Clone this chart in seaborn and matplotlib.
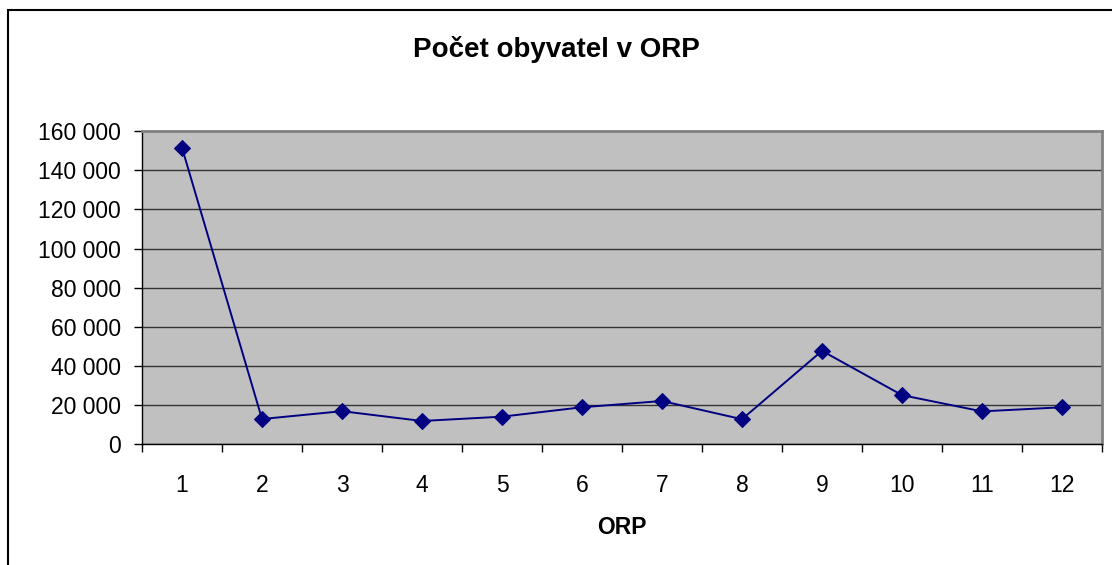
import matplotlib
matplotlib.use("Agg")
import matplotlib.pyplot as plt
import seaborn as sns
import pandas as pd
import numpy as np
from matplotlib.ticker import FuncFormatter, FixedLocator
from matplotlib.patches import Rectangle

# data
orp = [1, 2, 3, 4, 5, 6, 7, 8, 9, 10, 11, 12]
obyvatel = [151500, 13000, 17000, 12000, 14200, 19000, 22200, 12900, 47800, 25200, 16900, 19000]
y_ticks = [0, 20000, 40000, 60000, 80000, 100000, 120000, 140000, 160000]

df = pd.DataFrame({"ORP": orp, "Obyvatel": obyvatel})

sns.set_style("white")
plt.rcParams["font.family"] = ["Liberation Sans", "DejaVu Sans"]
plt.rcParams["text.color"] = "black"
plt.rcParams["xtick.color"] = "black"
plt.rcParams["ytick.color"] = "black"
plt.rcParams["axes.labelcolor"] = "black"

fig = plt.figure(figsize=(11.12, 5.65), dpi=100)
ax = fig.add_axes([0.1277, 0.2133, 0.8633, 0.5547])
ax.set_facecolor("#C0C0C0")

sns.lineplot(data=df, x="ORP", y="Obyvatel", ax=ax, color="#000080",
             marker="D", markersize=8, markeredgecolor="#000080",
             linewidth=1.4, zorder=3)

ax.set_xlim(0.5, 12.5)
ax.set_ylim(0, 160000)
ax.set_yticks(y_ticks)
ax.yaxis.set_major_formatter(FuncFormatter(lambda v, p: f"{int(v):,}".replace(",", " ")))
ax.grid(axis="y", color="#333333", linewidth=1)
ax.set_axisbelow(True)

ax.set_xticks(orp)
ax.xaxis.set_minor_locator(FixedLocator(np.arange(0.5, 13, 1)))
ax.tick_params(axis="x", which="major", length=0, pad=21, labelsize=16.5)
ax.tick_params(axis="x", which="minor", length=6, width=1, color="black", direction="out", bottom=True)
ax.tick_params(axis="y", length=6, width=1, color="black", direction="out", left=True, labelsize=16.5, pad=9)

for side in ["top", "right"]:
    ax.spines[side].set_color("#808080")
    ax.spines[side].set_linewidth(2)
for side in ["left", "bottom"]:
    ax.spines[side].set_color("black")
    ax.spines[side].set_linewidth(1)

ax.set_ylabel("")
ax.set_xlabel("ORP", fontsize=16.5, fontweight="bold", labelpad=14)
fig.text(0.5, 0.912, "Počet obyvatel v ORP", ha="center", va="center",
         fontsize=20, fontweight="bold")

# chart border
fig.patches.append(Rectangle((8 / 1112, -0.1), 1.2, (565 - 10) / 565 + 0.1,
                             transform=fig.transFigure, fill=False,
                             edgecolor="black", linewidth=1.5))

fig.savefig("out.png", dpi=100)
